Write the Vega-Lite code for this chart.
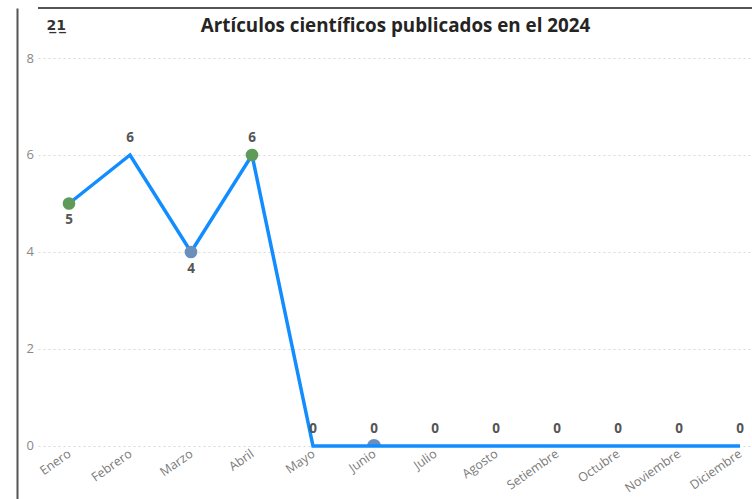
{
  "$schema": "https://vega.github.io/schema/vega-lite/v6.json",
  "autosize": "none",
  "width": 714,
  "height": 491,
  "padding": {"left": 38, "top": 8, "right": 0, "bottom": 0},
  "background": "white",
  "config": {
    "view": {"stroke": null},
    "font": "Open Sans"
  },
  "data": {
    "values": [
      {"mes": "Enero", "articulos": 5, "tipo": "A", "pos": "abajo"},
      {"mes": "Febrero", "articulos": 6, "tipo": null, "pos": "arriba"},
      {"mes": "Marzo", "articulos": 4, "tipo": "B", "pos": "abajo"},
      {"mes": "Abril", "articulos": 6, "tipo": "A", "pos": "arriba"},
      {"mes": "Mayo", "articulos": 0, "tipo": null, "pos": "arriba"},
      {"mes": "Junio", "articulos": 0, "tipo": "B", "pos": "arriba"},
      {"mes": "Julio", "articulos": 0, "tipo": null, "pos": "arriba"},
      {"mes": "Agosto", "articulos": 0, "tipo": null, "pos": "arriba"},
      {"mes": "Setiembre", "articulos": 0, "tipo": null, "pos": "arriba"},
      {"mes": "Octubre", "articulos": 0, "tipo": null, "pos": "arriba"},
      {"mes": "Noviembre", "articulos": 0, "tipo": null, "pos": "arriba"},
      {"mes": "Diciembre", "articulos": 0, "tipo": null, "pos": "arriba"}
    ]
  },
  "encoding": {
    "x": {
      "field": "mes",
      "type": "ordinal",
      "sort": ["Enero", "Febrero", "Marzo", "Abril", "Mayo", "Junio", "Julio", "Agosto", "Setiembre", "Octubre", "Noviembre", "Diciembre"],
      "scale": {"type": "point", "padding": 0.3525, "align": 0.721},
      "axis": {
        "orient": "bottom",
        "offset": -53,
        "domain": false,
        "ticks": false,
        "grid": false,
        "title": "Artículos científicos publicados en el 2024",
        "titleX": 357,
        "titleY": -415,
        "titleAngle": 0,
        "titleAlign": "center",
        "titleBaseline": "alphabetic",
        "titleFontSize": 18.8,
        "titleFontWeight": "bold",
        "titleColor": "#252423",
        "titleFont": "Open Sans",
        "labelAngle": -35,
        "labelAlign": "right",
        "labelBaseline": "middle",
        "labelPadding": 6,
        "labelFontSize": 12.5,
        "labelColor": "#7a7a7a",
        "labelFont": "Open Sans"
      }
    },
    "y": {
      "field": "articulos",
      "type": "quantitative",
      "scale": {"domain": [-1.093, 9.031], "nice": false, "zero": false},
      "axis": {
        "values": [0, 2, 4, 6, 8],
        "offset": 21,
        "domain": true,
        "domainColor": "#555555",
        "domainWidth": 2,
        "ticks": false,
        "tickSize": 0,
        "grid": true,
        "gridColor": "#d9d9d9",
        "gridDash": [2, 3],
        "gridWidth": 1,
        "labelAlign": "left",
        "labelPadding": -9,
        "labelFontSize": 13,
        "labelColor": "#888888",
        "labelFont": "Open Sans",
        "title": "2̲1̲",
        "titleAngle": 0,
        "titleAlign": "left",
        "titleBaseline": "alphabetic",
        "titleX": 29,
        "titleY": 21,
        "titleFontSize": 14,
        "titleFontWeight": "bold",
        "titleColor": "#333333",
        "titleFont": "DejaVu Sans"
      }
    }
  },
  "layer": [
    {
      "mark": {"type": "rule", "color": "#555555", "strokeWidth": 2},
      "encoding": {"y": {"datum": 9.031}, "x": null}
    },
    {
      "transform": [{"filter": "datum.tipo != null && datum.articulos == 0"}],
      "mark": {"type": "arc", "theta": -1.5708, "theta2": 1.5708, "radius": 7, "radius2": 0, "color": "#6a8fbd"}
    },
    {
      "mark": {"type": "line", "color": "#118DFF", "strokeWidth": 3.5, "clip": false}
    },
    {
      "transform": [{"filter": "datum.tipo != null && datum.articulos > 0"}],
      "mark": {"type": "circle", "size": 160, "opacity": 1},
      "encoding": {
        "color": {
          "field": "tipo",
          "type": "nominal",
          "scale": {"domain": ["A", "B"], "range": ["#5e9b59", "#6a8fbd"]},
          "legend": null
        }
      }
    },
    {
      "transform": [{"filter": "datum.pos == 'abajo'"}],
      "mark": {"type": "text", "dy": 17, "fontSize": 13.5, "fontWeight": "bold", "color": "#555555", "font": "Open Sans"},
      "encoding": {"text": {"field": "articulos", "type": "quantitative"}}
    },
    {
      "transform": [{"filter": "datum.pos == 'arriba'"}],
      "mark": {"type": "text", "dy": -17, "fontSize": 13.5, "fontWeight": "bold", "color": "#555555", "font": "Open Sans"},
      "encoding": {"text": {"field": "articulos", "type": "quantitative"}}
    }
  ]
}
